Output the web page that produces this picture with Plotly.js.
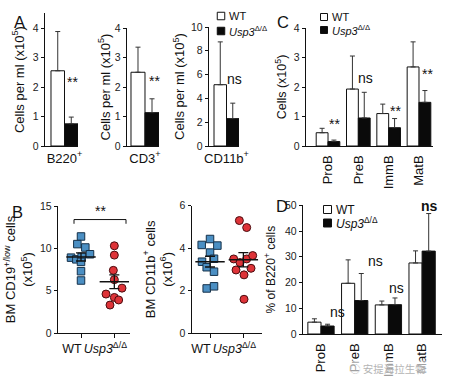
<!DOCTYPE html>
<html><head><meta charset="utf-8">
<script src="https://cdn.plot.ly/plotly-3.0.1.min.js"></script>
<style>html,body{margin:0;padding:0;background:#fff}#chart{width:454px;height:389px}</style>
</head><body><div id="chart"></div>
<script>
// ---------- data ----------
// Panel A: peripheral blood (cells per ml, x10^5)
const pbCats = ['B220<sup>+</sup>', 'CD3<sup>+</sup>', 'CD11b<sup>+</sup>'];
const pbWT = [2.55, 2.50, 5.15];
const pbWTerr = [1.33, 0.85, 3.60];
const pbKO = [0.75, 1.13, 2.30];
const pbKOerr = [0.23, 0.47, 1.30];
const pbSig = ['**', '**', 'ns'];

// Panel C: bone-marrow B-cell subsets (cells, x10^5)
const bCats = ['ProB', 'PreB', 'ImmB', 'MatB'];
const bWT = [0.45, 1.93, 1.10, 2.68];
const bWTerr = [0.15, 1.12, 0.32, 0.85];
const bKO = [0.15, 0.95, 0.62, 1.48];
const bKOerr = [0.05, 0.87, 0.31, 0.40];
const bSig = ['**', 'ns', '**', '**'];

// Panel D: % of B220+ cells
const pctWT = [4.6, 19.7, 11.3, 27.6];
const pctWTerr = [1.3, 9.1, 1.5, 4.7];
const pctKO = [3.1, 13.0, 11.4, 32.2];
const pctKOerr = [0.7, 10.5, 2.6, 14.6];
const pctSig = ['ns', 'ns', 'ns', 'ns'];

// Panel B: individual mice
const groups = ['WT', '<i>Usp3</i><sup>Δ/Δ</sup>'];
const seriesNames = ['WT', '<i>Usp3</i><sup>Δ/Δ</sup>'];
const cd19WT = [11.4, 10.5, 10.1, 8.9, 8.7, 9.0, 9.3, 8.4, 7.3, 6.2];
const cd19KO = [10.3, 9.2, 7.4, 6.3, 4.6, 5.3, 4.2, 3.9, 3.3];
const cd11bWT = [4.43, 4.15, 4.12, 3.79, 3.36, 3.50, 3.10, 2.89, 2.10, 2.20];
const cd11bKO = [5.30, 4.97, 3.49, 3.32, 3.49, 3.65, 2.97, 3.05, 2.74, 1.59];
// horizontal spread of the dots as drawn (fraction of a category step)
const cd19WTjit = [0, -0.11, 0.13, -0.30, -0.14, 0.02, 0.27, 0, 0, 0];
const cd19KOjit = [0, 0, -0.03, 0, -0.25, 0.23, 0, 0.13, -0.13];
const cd11bWTjit = [0, -0.25, 0.22, 0, -0.24, 0.12, -0.10, 0.12, -0.10, 0.12];
const cd11bKOjit = [-0.12, 0.10, -0.29, -0.10, 0.10, 0.28, -0.22, 0.23, 0.02, 0.02];

// ---------- helpers ----------
const FONT = 'Liberation Sans, Arial, sans-serif';
const W = 454, H = 389;
const xd = (a, b) => [a / W, b / W];
const yd = (top, bot) => [1 - bot / H, 1 - top / H];
const mean = a => a.reduce((s, v) => s + v, 0) / a.length;
const sem = a => { const m = mean(a); return Math.sqrt(a.reduce((s, v) => s + (v - m) * (v - m), 0) / (a.length - 1)) / Math.sqrt(a.length); };

const INK = '#111';
const axBase = {showline: true, linecolor: INK, linewidth: 1.2, showgrid: false, zeroline: false, fixedrange: true,
  tickfont: {family: FONT, size: 10.5, color: '#222'}};
function yax(dom, range, dtick, anchor, title, standoff, tsize) {
  return Object.assign({}, axBase, {domain: dom, range: range, dtick: dtick, tick0: 0, ticks: 'outside', ticklen: 3,
    tickwidth: 1, tickcolor: INK, anchor: anchor,
    title: {text: title, font: {family: FONT, size: tsize || 13, color: INK}, standoff: standoff}});
}
function xcat(dom, range, anchor, extra) {
  return Object.assign({}, axBase, {domain: dom, range: range, anchor: anchor, type: 'category', ticks: '',
    tickfont: {family: FONT, size: 13, color: INK}}, extra || {});
}

const wtMarker = {color: '#ffffff', line: {color: INK, width: 1}};
const koMarker = {color: '#0a0a0a', line: {color: INK, width: 1}};
const errUp = arr => ({type: 'data', symmetric: false, array: arr, arrayminus: arr.map(() => 0), color: '#333', thickness: 1, width: 2.5});

const traces = [];
// Panel A bars
const aAx = [['x', 'y'], ['x2', 'y2'], ['x3', 'y3']];
for (let i = 0; i < 3; i++) {
  traces.push({type: 'bar', x: [pbCats[i]], y: [pbWT[i]], xaxis: aAx[i][0], yaxis: aAx[i][1], name: seriesNames[0],
    marker: wtMarker, error_y: errUp([pbWTerr[i]]), showlegend: false, hoverinfo: 'skip'});
  traces.push({type: 'bar', x: [pbCats[i]], y: [pbKO[i]], xaxis: aAx[i][0], yaxis: aAx[i][1], name: seriesNames[1],
    marker: koMarker, error_y: errUp([pbKOerr[i]]), showlegend: false, hoverinfo: 'skip'});
}
// Panel C bars
traces.push({type: 'bar', x: bCats, y: bWT, xaxis: 'x4', yaxis: 'y4', name: seriesNames[0], marker: wtMarker, error_y: errUp(bWTerr), showlegend: false});
traces.push({type: 'bar', x: bCats, y: bKO, xaxis: 'x4', yaxis: 'y4', name: seriesNames[1], marker: koMarker, error_y: errUp(bKOerr), showlegend: false});
// Panel D bars
traces.push({type: 'bar', x: bCats, y: pctWT, xaxis: 'x7', yaxis: 'y7', name: seriesNames[0], marker: wtMarker, error_y: errUp(pctWTerr), showlegend: false});
traces.push({type: 'bar', x: bCats, y: pctKO, xaxis: 'x7', yaxis: 'y7', name: seriesNames[1], marker: koMarker, error_y: errUp(pctKOerr), showlegend: false});

// Panel B dot plots
const blueSq = {symbol: 'square', size: 7.5, color: '#4b8fc3', line: {color: '#15314a', width: 1}};
const redCirc = {symbol: 'circle', size: 8, color: '#de3338', line: {color: '#4a0d10', width: 1}};
function dots(vals, jit, g, xa, ya, mk) {
  traces.push({type: 'scatter', mode: 'markers', x: vals.map((v, i) => g + jit[i]), y: vals, xaxis: xa, yaxis: ya,
    marker: mk, showlegend: false, hoverinfo: 'skip'});
}
dots(cd19WT, cd19WTjit, 0, 'x5', 'y5', blueSq);
dots(cd19KO, cd19KOjit, 1, 'x5', 'y5', redCirc);
dots(cd11bWT, cd11bWTjit, 0, 'x6', 'y6', blueSq);
dots(cd11bKO, cd11bKOjit, 1, 'x6', 'y6', redCirc);
function meanSem(a, b, xa, ya) {
  traces.push({type: 'scatter', mode: 'markers', x: [0, 1], y: [mean(a), mean(b)], xaxis: xa, yaxis: ya,
    marker: {symbol: 'line-ew', size: 21, color: INK, line: {width: 1.5, color: INK}},
    error_y: {type: 'data', array: [sem(a), sem(b)], color: INK, thickness: 1.3, width: 5},
    showlegend: false, hoverinfo: 'skip'});
}
meanSem(cd19WT, cd19KO, 'x5', 'y5');
meanSem(cd11bWT, cd11bKO, 'x6', 'y6');

// ---------- annotations ----------
const ann = [];
const shapes = [];
const P = (x, y) => ({x: x / W, y: 1 - y / H, xref: 'paper', yref: 'paper'});
function txt(x, y, text, size, extra) {
  ann.push(Object.assign(P(x, y), {text: text, showarrow: false, xanchor: 'center', yanchor: 'middle',
    font: {family: FONT, size: size, color: INK}}, extra || {}));
}
// panel letters
txt(19, 22, 'A', 16.5); txt(17, 212, 'B', 16.5); txt(283, 22, 'C', 16.5); txt(282, 206, 'D', 16.5);
// significance marks
const aSigPos = [[72, 82], [154, 81], [234, 79]];
pbSig.forEach((s, i) => txt(aSigPos[i][0], aSigPos[i][1], s, 14));
const cSigPos = [[334, 124], [365, 78], [395, 111], [427, 74]];
bSig.forEach((s, i) => txt(cSigPos[i][0], cSigPos[i][1], s, 14));
const dSigPos = [[337, 312], [375, 261], [396, 288], [429, 206]];
pctSig.forEach((s, i) => txt(dSigPos[i][0], dSigPos[i][1], i === 3 ? '<b>' + s + '</b>' : s, 14));
txt(100, 211, '**', 14);

// key boxes (WT open, Usp3 filled) for panels A, C, D
function key(x, y1, y2, sz, fsize) {
  const fills = ['#ffffff', '#0a0a0a'];
  [y1, y2].forEach((yy, k) => {
    shapes.push({type: 'rect', xref: 'paper', yref: 'paper', x0: (x - sz / 2) / W, x1: (x + sz / 2) / W,
      y0: 1 - (yy + sz / 2) / H, y1: 1 - (yy - sz / 2) / H, fillcolor: fills[k], line: {color: INK, width: 1}});
    ann.push(Object.assign(P(x + sz / 2 + 2, yy), {text: seriesNames[k], showarrow: false, xanchor: 'left', yanchor: 'middle',
      font: {family: FONT, size: fsize, color: INK}}));
  });
}
key(221, 16, 31, 7.5, 11);
key(324, 17, 30, 7, 11);
key(327.5, 209.5, 223, 8, 12);

// watermark
ann.push(Object.assign(P(349, 377), {text: '◌ 安提海拉生物', showarrow: false, xanchor: 'left', borderpad: 0,
  bgcolor: 'rgba(255,255,255,0.6)', font: {family: 'Noto Sans CJK SC', size: 10.5, color: '#b4b4b4'}}));

// bracket for the CD19 comparison
shapes.push({type: 'path', xref: 'x5', yref: 'y5', path: 'M -0.21,12.9 L -0.21,13.4 L 1.35,13.4 L 1.35,12.9', line: {color: INK, width: 1}});

const bTick = {ticks: 'outside', ticklen: 4, tickcolor: INK, tickangle: 0, ticklabelshift: -9,
  tickfont: {family: FONT, size: 12.5, color: INK}};
const layout = {
  width: W, height: H, margin: {l: 0, r: 0, t: 0, b: 0}, paper_bgcolor: '#fff', plot_bgcolor: 'rgba(0,0,0,0)',
  showlegend: false, barmode: 'group', bargap: 0.22, bargroupgap: 0, font: {family: FONT, color: INK},
  xaxis: xcat(xd(45, 78), [-0.563, 0.39], 'y'),
  yaxis: yax(yd(13.25, 146), [0, 4.5], 1, 'x', 'Cells per ml (x10<sup>5</sup>)', 5),
  xaxis2: xcat(xd(127, 159), [-0.501, 0.39], 'y2'),
  yaxis2: yax(yd(28, 146), [0, 4], 1, 'x2', 'Cells per ml (x10<sup>5</sup>)', 1),
  xaxis3: xcat(xd(209, 239), [-0.546, 0.39], 'y3'),
  yaxis3: yax(yd(27, 146), [0, 10], 2, 'x3', 'Cells per ml (x10<sup>5</sup>)', 3),
  xaxis4: xcat(xd(306, 433), [-0.726, 3.462], 'y4', {tickangle: -90, ticklabelstandoff: 3}),
  yaxis4: yax(yd(28, 146), [0, 4], 1, 'x4', 'Cells (x10<sup>5</sup>)', 4, 12.5),
  xaxis5: Object.assign({}, axBase, {domain: xd(58, 130), range: [-0.69, 1.47], anchor: 'y5', tickvals: [0, 1], ticktext: groups}, bTick),
  yaxis5: yax(yd(206, 333), [0, 15], 5, 'x5', 'BM CD19<sup>+/low</sup> cells<br>(x10<sup>5</sup>)', 4),
  xaxis6: Object.assign({}, axBase, {domain: xd(191.7, 261.7), range: [-0.55, 1.55], anchor: 'y6', tickvals: [0, 1], ticktext: groups}, bTick),
  yaxis6: yax(yd(205.7, 333), [0, 6], 2, 'x6', 'BM CD11b<sup>+</sup> cells<br>(x10<sup>6</sup>)', 4),
  xaxis7: xcat(xd(303, 442), [-0.534, 3.59], 'y7', {tickangle: -90, ticklabelstandoff: 3}),
  yaxis7: yax(yd(205.3, 334), [0, 50], 10, 'x7', '% of B220<sup>+</sup> cells', 6, 12),
  shapes: shapes,
  annotations: ann
};

Plotly.newPlot('chart', traces, layout, {staticPlot: true, displayModeBar: false});
</script></body></html>
